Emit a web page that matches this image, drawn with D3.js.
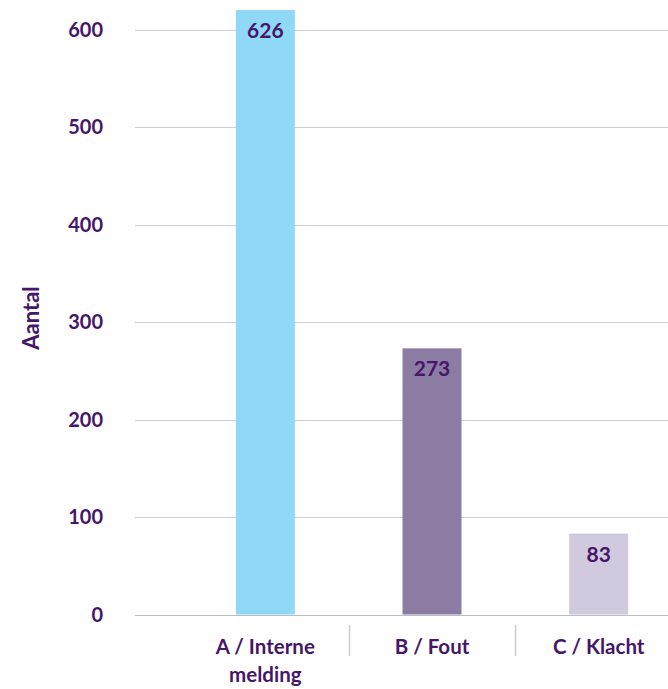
<!DOCTYPE html>
<html>
<head>
<meta charset="utf-8">
<script src="https://cdn.jsdelivr.net/npm/d3@7"></script>
<style>
  html, body { margin: 0; padding: 0; background: #fff; }
  svg { display: block; }
  text { font-family: Lato, "Open Sans", sans-serif; font-weight: 700; fill: #45166a; }
</style>
</head>
<body>
<svg id="chart" width="668" height="689"></svg>
<script>
// Data
const categories = ["A / Interne melding", "B / Fout", "C / Klacht"];
const categoryLines = [["A / Interne", "melding"], ["B / Fout"], ["C / Klacht"]];
const values = [626, 273, 83];
const barColors = ["#8fd9f7", "#8c7ba2", "#d1c9de"];
const yTicks = [0, 100, 200, 300, 400, 500, 600];
const yTitle = "Aantal";

const W = 668, H = 689;
const svg = d3.select("#chart");

const y = d3.scaleLinear().domain([0, 600]).range([614.5, 29.5]);
const x = d3.scaleBand().domain(categories).range([182, 682]).padding(0);
const barW = 59;
const gridLeft = 135;

// clip for plot area (top of bar A is cut)
svg.append("clipPath").attr("id", "plotclip")
  .append("rect").attr("x", 0).attr("y", 10).attr("width", W).attr("height", H);

// gridlines
svg.append("g").selectAll("line").data(yTicks).join("line")
  .attr("x1", gridLeft).attr("x2", W)
  .attr("y1", d => Math.round(y(d)) + 0.5).attr("y2", d => Math.round(y(d)) + 0.5)
  .attr("stroke", d => d === 0 ? "#bdbdbd" : "#cfcfcf")
  .attr("stroke-width", 1);

// tick labels
svg.append("g").selectAll("text").data(yTicks).join("text")
  .attr("x", 103).attr("y", d => y(d))
  .attr("dy", "0.36em")
  .attr("text-anchor", "end")
  .attr("font-size", 20)
  .text(d => d);

// axis title
svg.append("text")
  .attr("transform", `translate(39, ${(y(0) + y(600)) / 2 - 4}) rotate(-90)`)
  .attr("text-anchor", "middle")
  .attr("font-size", 22)
  .text(yTitle);

// bars
const bars = svg.append("g").attr("clip-path", "url(#plotclip)");
bars.selectAll("rect").data(values).join("rect")
  .attr("x", (d, i) => x(categories[i]) + x.bandwidth() / 2 - barW / 2)
  .attr("width", barW)
  .attr("y", d => y(d))
  .attr("height", d => y(0) - y(d))
  .attr("fill", (d, i) => barColors[i]);

// value labels
svg.append("g").selectAll("text").data(values).join("text")
  .attr("x", (d, i) => x(categories[i]) + x.bandwidth() / 2)
  .attr("y", d => Math.max(y(d), 10) + 28)
  .attr("text-anchor", "middle")
  .attr("font-size", 21)
  .text(d => d);

// category separators
const seps = categories.slice(1).map(c => x(c));
svg.append("g").selectAll("line").data(seps).join("line")
  .attr("x1", d => Math.round(d) + 0.5).attr("x2", d => Math.round(d) + 0.5)
  .attr("y1", 625).attr("y2", 656)
  .attr("stroke", "#cccccc").attr("stroke-width", 1.5);

// category labels
const cl = svg.append("g").selectAll("text").data(categories).join("text")
  .attr("x", d => x(d) + x.bandwidth() / 2)
  .attr("y", 654)
  .attr("text-anchor", "middle")
  .attr("font-size", 20.5);
cl.each(function(d, i) {
  const t = d3.select(this);
  categoryLines[i].forEach((line, j) => {
    t.append("tspan")
      .attr("x", x(d) + x.bandwidth() / 2)
      .attr("dy", j === 0 ? 0 : 28)
      .text(line);
  });
});
</script>
</body>
</html>
